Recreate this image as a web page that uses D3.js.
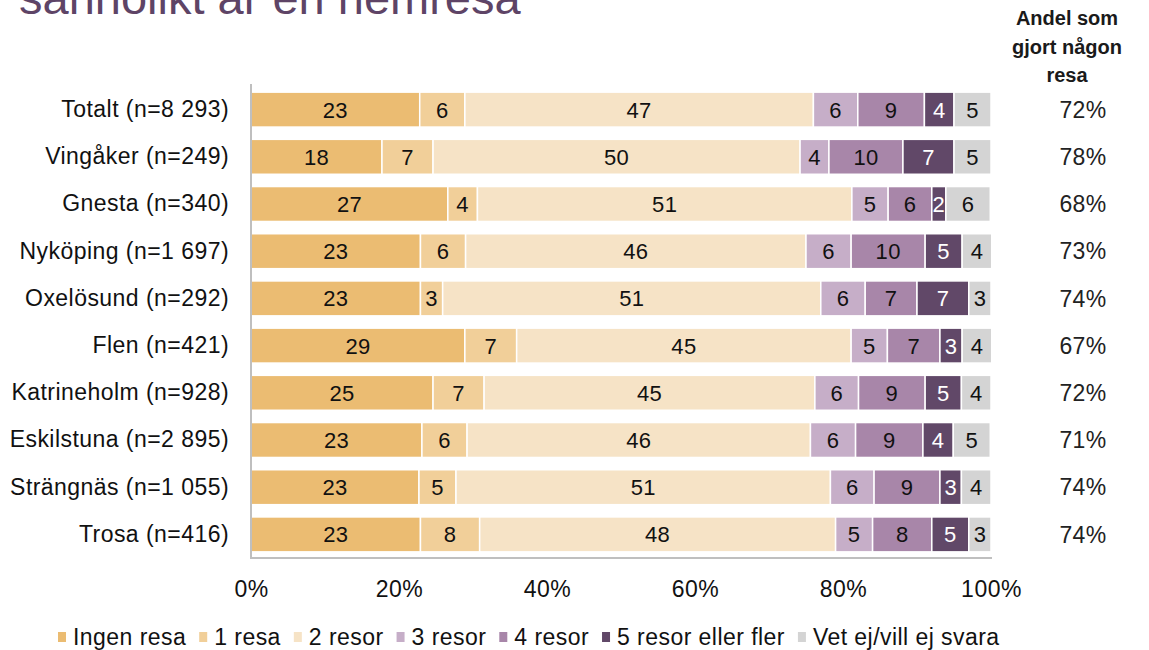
<!DOCTYPE html>
<html>
<head>
<meta charset="utf-8">
<script src="https://cdn.jsdelivr.net/npm/d3@7"></script>
<style>
  body { margin: 0; background: #fff; }
  svg { font-family: Arial, "Liberation Sans", sans-serif; }
</style>
</head>
<body>
<div id="chart"></div>
<script>
// DATA
var categories = ["Totalt (n=8 293)", "Vingåker (n=249)", "Gnesta (n=340)", "Nyköping (n=1 697)",
    "Oxelösund (n=292)", "Flen (n=421)", "Katrineholm (n=928)", "Eskilstuna (n=2 895)",
    "Strängnäs (n=1 055)", "Trosa (n=416)"];
var seriesNames = ["Ingen resa", "1 resa", "2 resor", "3 resor", "4 resor", "5 resor eller fler", "Vet ej/vill ej svara"];
var ingenResa = [22.8, 17.7, 26.6, 22.9, 22.9, 28.9, 24.6, 23.1, 22.7, 22.9];
var enResa    = [6.1, 6.9, 4.0, 6.1, 3.0, 7.0, 6.9, 6.1, 5.0, 8.0];
var tvaResor  = [47.1, 49.6, 50.6, 46.0, 51.1, 45.2, 44.7, 46.4, 50.6, 48.1];
var treResor  = [6.0, 3.9, 4.9, 6.1, 6.0, 4.9, 5.9, 6.1, 5.9, 5.0];
var fyraResor = [9.0, 10.0, 5.9, 10.0, 7.0, 7.1, 9.0, 9.1, 8.9, 8.0];
var femResor  = [4.0, 6.9, 1.9, 5.0, 7.0, 3.0, 4.9, 4.1, 2.9, 5.0];
var vetEj     = [5.0, 5.0, 6.0, 4.0, 3.0, 4.0, 4.0, 5.0, 4.0, 3.0];
var andel = [72, 78, 68, 73, 74, 67, 72, 71, 74, 74];
var xTicks = [0, 20, 40, 60, 80, 100];

var colors = ["#ebbc72", "#f1cf99", "#f6e3c6", "#c6aec8", "#a886a9", "#614868", "#d4d4d4"];
var labelColors = ["#111", "#111", "#111", "#111", "#111", "#fff", "#111"];

// build table for d3.stack
var allSeries = [ingenResa, enResa, tvaResor, treResor, fyraResor, femResor, vetEj];
var table = categories.map(function(c, i) {
    var row = { cat: c };
    seriesNames.forEach(function(s, j) { row[s] = allSeries[j][i]; });
    return row;
});

var svgWidth = 1149, svgHeight = 650;
var svg = d3.select("#chart").append("svg")
    .attr("width", svgWidth)
    .attr("height", svgHeight);

// Title (cut at top, as in the original slide)
svg.append("text")
    .attr("x", 19)
    .attr("y", 14)
    .attr("fill", "#5e4466")
    .style("font-size", "47px")
    .text("sannolikt är en hemresa");

var x = d3.scaleLinear().domain([0, 100]).range([251, 991]);
var y = d3.scaleBand().domain(categories).range([86, 558])
    .paddingInner(0.26).paddingOuter(0.13);

var stack = d3.stack().keys(seriesNames);
var stacked = stack(table);

var groups = svg.append("g").selectAll("g")
    .data(stacked)
    .join("g")
    .attr("fill", function(d, i) { return colors[i]; });

groups.selectAll("rect")
    .data(function(d) { return d; })
    .join("rect")
    .attr("x", function(d) { return x(d[0]); })
    .attr("y", function(d) { return y(d.data.cat); })
    .attr("width", function(d) { return x(d[1]) - x(d[0]); })
    .attr("height", y.bandwidth())
    .attr("stroke", "#fff")
    .attr("stroke-width", 1.5);

// value labels
stacked.forEach(function(s, i) {
    svg.append("g").selectAll("text")
        .data(s)
        .join("text")
        .attr("x", function(d) { return (x(d[0]) + x(d[1])) / 2; })
        .attr("y", function(d) { return y(d.data.cat) + y.bandwidth() / 2; })
        .attr("dy", "0.36em")
        .attr("text-anchor", "middle")
        .attr("fill", labelColors[i])
        .style("font-size", "22px")
        .style("letter-spacing", "0.3px")
        .text(function(d) { return Math.round(d[1] - d[0]); });
});

// axis lines
svg.append("line")
    .attr("x1", 251).attr("x2", 251)
    .attr("y1", y.range()[0] - 2).attr("y2", y.range()[1])
    .attr("stroke", "#bfbfbf").attr("stroke-width", 2);
svg.append("line")
    .attr("x1", 250).attr("x2", 992)
    .attr("y1", y.range()[1]).attr("y2", y.range()[1])
    .attr("stroke", "#bfbfbf").attr("stroke-width", 2);

// category axis
var yAxis = svg.append("g")
    .attr("transform", "translate(251,0)")
    .call(d3.axisLeft(y).tickSize(0).tickPadding(22));
yAxis.select(".domain").remove();
yAxis.selectAll("text")
    .style("font-size", "23px")
    .style("letter-spacing", "0.45px")
    .style("font-family", "Arial, 'Liberation Sans', sans-serif")
    .attr("fill", "#111");

// percent axis
var xAxis = svg.append("g")
    .attr("transform", "translate(0,578)")
    .call(d3.axisBottom(x).tickValues(xTicks).tickSize(0).tickFormat(function(d) { return d + "%"; }));
xAxis.select(".domain").remove();
xAxis.selectAll("text")
    .style("font-size", "23px")
    .style("letter-spacing", "0.5px")
    .style("font-family", "Arial, 'Liberation Sans', sans-serif")
    .attr("fill", "#111");

// right column
var header = ["Andel som", "gjort någon", "resa"];
svg.append("g").selectAll("text")
    .data(header)
    .join("text")
    .attr("x", 1067)
    .attr("y", function(d, i) { return 25 + i * 28.5; })
    .attr("text-anchor", "middle")
    .attr("font-weight", "bold")
    .attr("fill", "#1a1a1a")
    .style("font-size", "20px")
    .text(function(d) { return d; });

svg.append("g").selectAll("text")
    .data(andel)
    .join("text")
    .attr("x", 1083)
    .attr("y", function(d, i) { return y(categories[i]) + y.bandwidth() / 2; })
    .attr("dy", "0.36em")
    .attr("text-anchor", "middle")
    .attr("fill", "#222")
    .style("font-size", "23px")
    .style("letter-spacing", "0.4px")
    .text(function(d) { return d + "%"; });

// legend
var legend = svg.append("g");
var lx = 58;
seriesNames.forEach(function(name, i) {
    legend.append("rect")
        .attr("x", lx).attr("y", 632)
        .attr("width", 8).attr("height", 10)
        .attr("fill", colors[i]);
    var t = legend.append("text")
        .attr("x", lx + 15)
        .attr("y", 645)
        .attr("fill", "#111")
        .style("font-size", "23px")
        .style("letter-spacing", "0.45px")
        .text(name);
    lx = lx + 15 + t.node().getComputedTextLength() + 13;
});
</script>
</body>
</html>
